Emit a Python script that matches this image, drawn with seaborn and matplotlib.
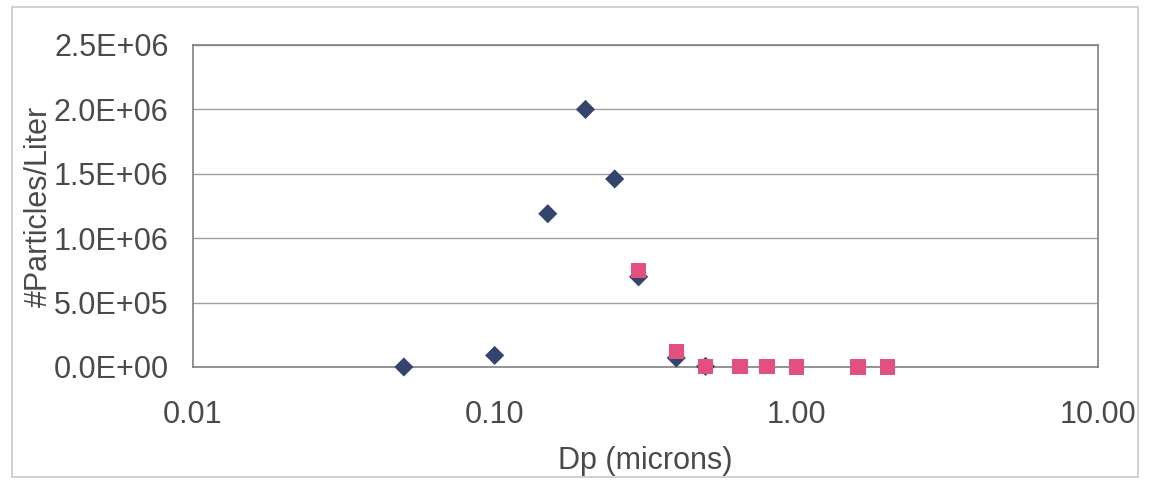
import numpy as np
import pandas as pd
import matplotlib
matplotlib.use("Agg")
import matplotlib.pyplot as plt
import seaborn as sns
from matplotlib.patches import Rectangle
from matplotlib.ticker import FixedLocator, NullLocator

# diamonds (series 1)
dp_a = [0.05, 0.10, 0.15, 0.20, 0.25, 0.30, 0.40, 0.50]
n_a = [0, 9.0e4, 1.19e6, 2.0e6, 1.46e6, 7.0e5, 7.0e4, 5.0e3]
# squares (series 2)
dp_b = [0.30, 0.40, 0.50, 0.65, 0.80, 1.00, 1.60, 2.00]
n_b = [7.5e5, 1.2e5, 5.0e3, 2.0e3, 1.0e3, 5.0e2, 1.0e2, 5.0e1]

x_ticks = [0.01, 0.1, 1, 10]
x_ticklabels = ["0.01", "0.10", "1.00", "10.00"]
y_ticks = [0, 5e5, 1e6, 1.5e6, 2e6, 2.5e6]
y_ticklabels = ["0.0E+00", "5.0E+05", "1.0E+06", "1.5E+06", "2.0E+06", "2.5E+06"]

sns.set_style("white")
plt.rcParams['font.family'] = ['Liberation Sans', 'DejaVu Sans']

fig = plt.figure(figsize=(11.55, 4.8), dpi=100)
ax = fig.add_axes([193/1155, 1-367/480, (1098-193)/1155, (367-45)/480])

df_a = pd.DataFrame({"dp": dp_a, "n": n_a})
df_b = pd.DataFrame({"dp": dp_b, "n": n_b})

sns.scatterplot(data=df_a, x="dp", y="n", ax=ax, marker="D", s=95,
                color="#34456d", edgecolor="none", zorder=3, clip_on=False)
sns.scatterplot(data=df_b, x="dp", y="n", ax=ax, marker="s", s=120,
                color="#e2507f", edgecolor="none", zorder=4, clip_on=False)

ax.set_xscale("log")
ax.set_xlim(0.01, 10)
ax.set_ylim(0, 2.5e6)
ax.xaxis.set_major_locator(FixedLocator(x_ticks))
ax.xaxis.set_minor_locator(NullLocator())
ax.set_xticklabels(x_ticklabels)
ax.set_yticks(y_ticks)
ax.set_yticklabels(y_ticklabels)

ax.yaxis.grid(True, color="#a0a0a0", linewidth=1.0)
ax.set_axisbelow(True)
for sp in ax.spines.values():
    sp.set_color("#808080")
    sp.set_linewidth(1.2)

ax.tick_params(axis="both", which="major", direction="out",
               width=1, color="#909090", labelcolor="#4a4a4a", labelsize=22)
ax.tick_params(axis="x", length=7, pad=17)
ax.tick_params(axis="y", length=4.5, pad=13)

ax.set_xlabel("Dp (microns)", fontsize=22, color="#4a4a4a", labelpad=11)
ax.set_ylabel("#Particles/Liter", fontsize=22, color="#4a4a4a", labelpad=0)

# outer chart border
fig.patches.append(Rectangle((12/1155, 1-477/480), (1138-12)/1155, (477-7)/480,
                             transform=fig.transFigure, fill=False,
                             edgecolor="#c8c8c8", linewidth=1.2))

fig.savefig("out.png", dpi=100)
